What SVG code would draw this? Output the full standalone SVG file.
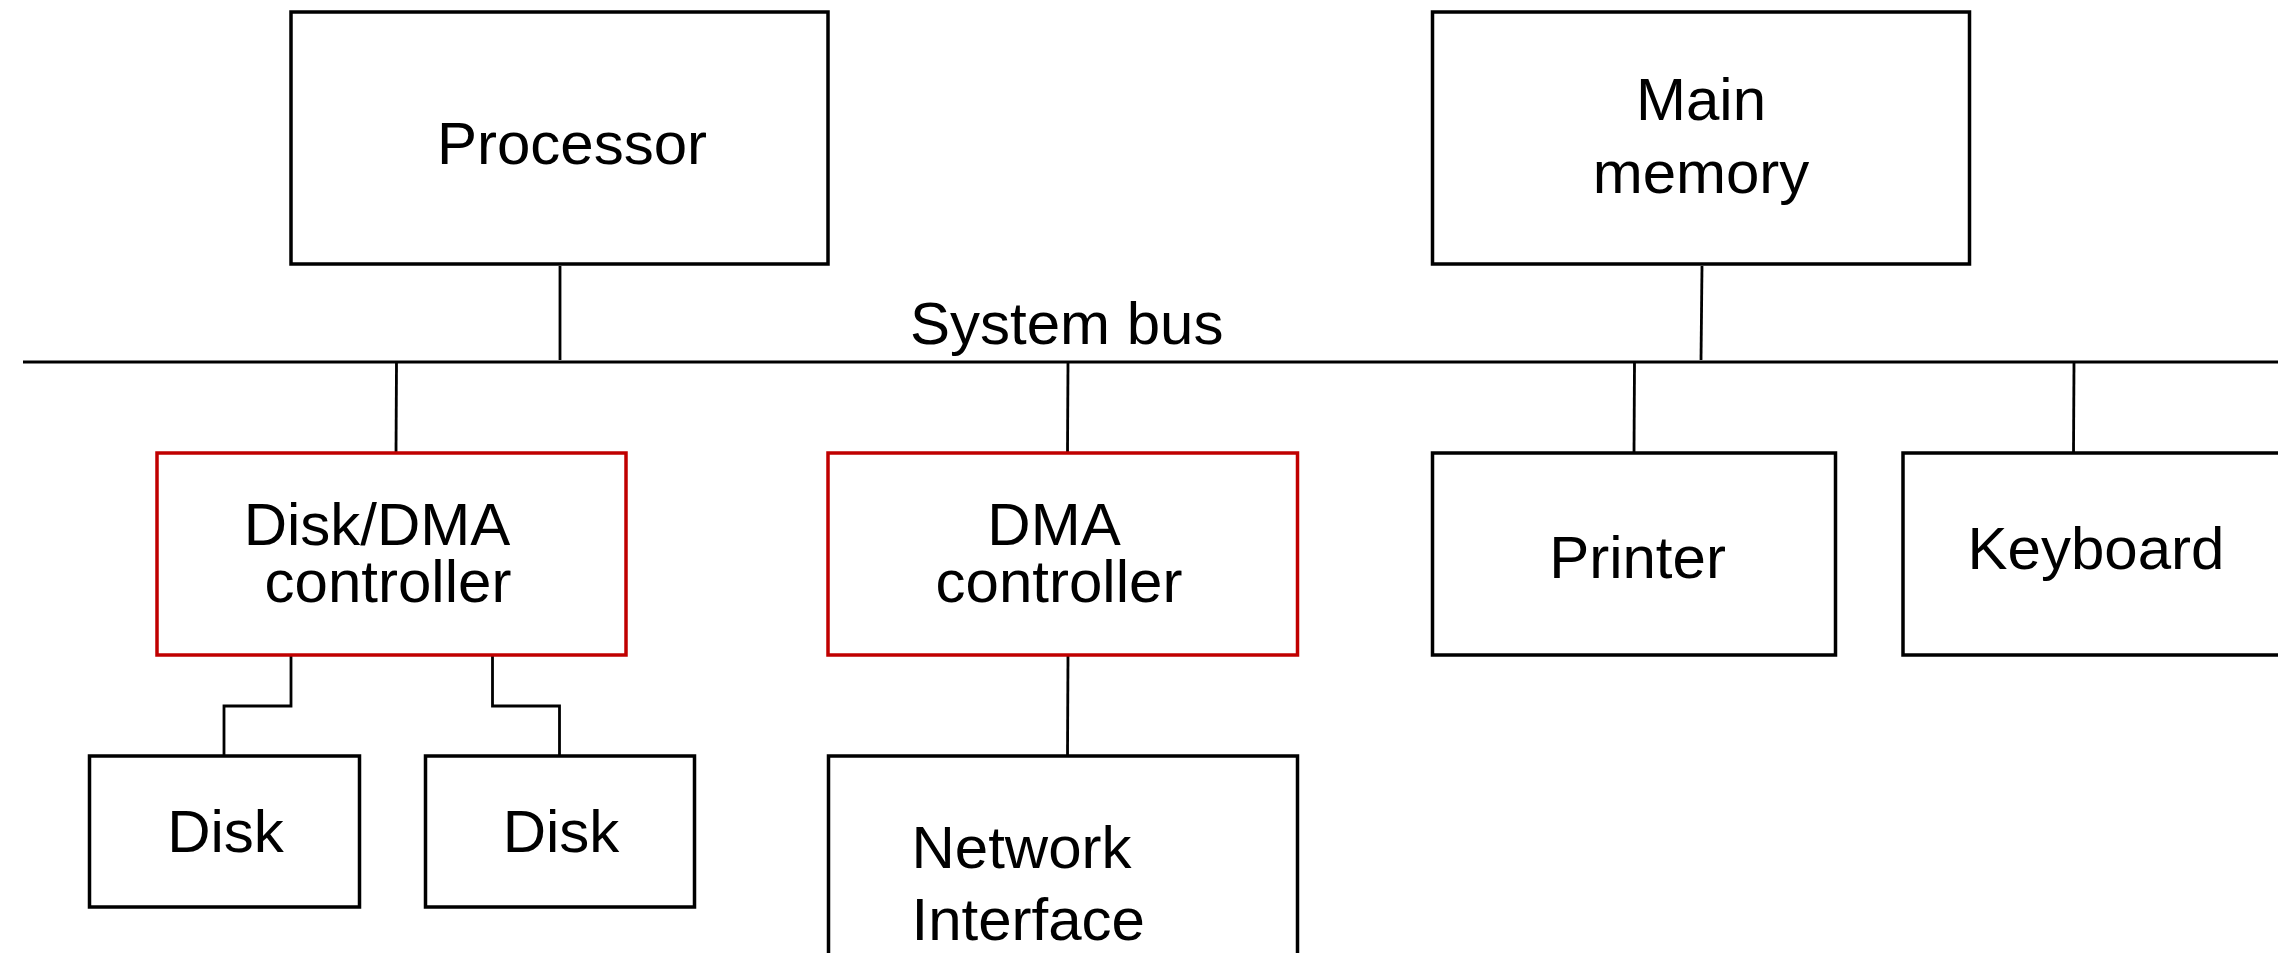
<svg xmlns="http://www.w3.org/2000/svg" width="2278" height="953" viewBox="0 0 2278 953">
  <style>
    .box { fill: #ffffff; stroke: #000000; stroke-width: 3.5; }
    .dma { fill: #ffffff; stroke: #c00000; stroke-width: 3.5; }
    .wire { fill: none; stroke: #000000; stroke-width: 2.8; }
    .bus { fill: none; stroke: #000000; stroke-width: 3.2; }
    text { font-family: "Liberation Sans", Arial, sans-serif; font-size: 60px; fill: #000000; }
    .c { text-anchor: middle; }
  </style>
  <rect width="2278" height="953" fill="#ffffff"/>

  <!-- bus and connectors -->
  <g id="connectors">
    <line class="bus" x1="23" y1="362" x2="2290" y2="362"/>
    <line class="wire" x1="560" y1="266" x2="560" y2="360"/>
    <line class="wire" x1="1702" y1="266" x2="1701" y2="360"/>
    <line class="wire" x1="396.5" y1="363" x2="396" y2="453"/>
    <line class="wire" x1="1068" y1="363" x2="1067.5" y2="453"/>
    <line class="wire" x1="1634.5" y1="363" x2="1634" y2="453"/>
    <line class="wire" x1="2074" y1="363" x2="2073.5" y2="453"/>
    <polyline class="wire" points="291,655 291,706 224,706 224,756"/>
    <polyline class="wire" points="492.5,655 492.5,706 559.5,706 559.5,756"/>
    <line class="wire" x1="1068" y1="655" x2="1067.5" y2="756"/>
    <text x="910" y="344">System bus</text>
  </g>

  <g id="processor">
    <rect class="box" x="291" y="12" width="537" height="252"/>
    <text class="c" x="572" y="164">Processor</text>
  </g>

  <g id="main-memory">
    <rect class="box" x="1432.5" y="12" width="537" height="252"/>
    <text class="c" x="1701" y="120">Main</text>
    <text class="c" x="1701" y="193">memory</text>
  </g>

  <g id="disk-dma-controller">
    <rect class="dma" x="157" y="453" width="469" height="202"/>
    <text class="c" x="377" y="545">Disk/DMA</text>
    <text class="c" x="388" y="602">controller</text>
  </g>

  <g id="dma-controller">
    <rect class="dma" x="828" y="453" width="469.5" height="202"/>
    <text class="c" x="1054" y="545">DMA</text>
    <text class="c" x="1059" y="602">controller</text>
  </g>

  <g id="printer">
    <rect class="box" x="1432.5" y="453" width="403" height="202"/>
    <text class="c" x="1637.5" y="578">Printer</text>
  </g>

  <g id="keyboard">
    <rect class="box" x="1903" y="453" width="400" height="202"/>
    <text x="1967.5" y="569">Keyboard</text>
  </g>

  <g id="disk-1">
    <rect class="box" x="89.5" y="756" width="270" height="151"/>
    <text class="c" x="225.5" y="852">Disk</text>
  </g>

  <g id="disk-2">
    <rect class="box" x="425.5" y="756" width="269" height="151"/>
    <text class="c" x="561" y="852">Disk</text>
  </g>

  <g id="network-interface">
    <rect class="box" x="828.5" y="756" width="469" height="220"/>
    <text x="911.5" y="868">Network</text>
    <text x="911.5" y="940">Interface</text>
  </g>
</svg>
